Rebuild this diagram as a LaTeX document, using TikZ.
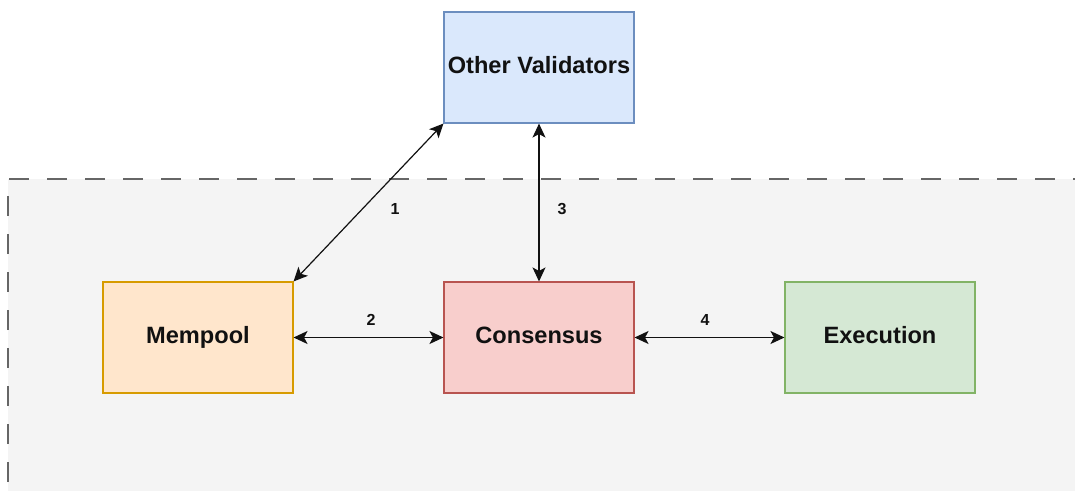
\documentclass[tikz,border=0pt]{standalone}
\usepackage{fontspec}
\setmainfont{Liberation Sans}
\usetikzlibrary{arrows.meta}
\definecolor{zonefill}{HTML}{F4F4F4}
\definecolor{zoneline}{HTML}{666666}
\definecolor{bluefill}{HTML}{DAE8FC}
\definecolor{blueline}{HTML}{6C8EBF}
\definecolor{orangefill}{HTML}{FFE6CC}
\definecolor{orangeline}{HTML}{D79B00}
\definecolor{redfill}{HTML}{F8CECC}
\definecolor{redline}{HTML}{B85450}
\definecolor{greenfill}{HTML}{D5E8D4}
\definecolor{greenline}{HTML}{82B366}
\definecolor{ink}{HTML}{111111}
\tikzset{
  block/.style={draw, line width=1.1pt, minimum width=190pt, minimum height=111pt,
    inner sep=0pt, font=\fontsize{23.6}{28}\selectfont\bfseries, text=ink,
    text height=17pt, text depth=6pt},
  link/.style={draw=ink, line width=1.2pt,
    >={Stealth[length=14pt,width=13pt,inset=3.5pt]}, <->},
  tag/.style={font=\fontsize{16}{19}\selectfont\bfseries, text=ink, inner sep=0pt},
}
\begin{document}
\begin{tikzpicture}[x=1pt,y=-1pt]
  \useasboundingbox (0,0) rectangle (1075,490);
  % dashed zone holding the local components
  \begin{scope}
    \clip (0,0) rectangle (1075,490);
    \fill[zonefill] (8,179) rectangle (1100,520);
    \draw[draw=zoneline, line width=1.4pt, dash pattern=on 20pt off 18pt]
      (8,520) -- (8,179) -- (1100,179);
  \end{scope}

  \node[block, fill=bluefill, draw=blueline] (ov) at (539,67.5) {Other Validators};
  \node[block, fill=orangefill, draw=orangeline] (mp) at (198,337.5) {Mempool};
  \node[block, fill=redfill, draw=redline] (cs) at (539,337.5) {Consensus};
  \node[block, fill=greenfill, draw=greenline] (ex) at (880,337.5) {Execution};

  \draw[link] (mp.north east) -- (ov.south west);
  \draw[link] (mp.east) -- (cs.west);
  \draw[link] (ov.south) -- (cs.north);
  \draw[link] (cs.east) -- (ex.west);

  \node[tag] (l1) at (395,209) {1};
  \node[tag] (l2) at (371,320) {2};
  \node[tag] (l3) at (562,209) {3};
  \node[tag] (l4) at (705,320) {4};
\end{tikzpicture}
\end{document}
